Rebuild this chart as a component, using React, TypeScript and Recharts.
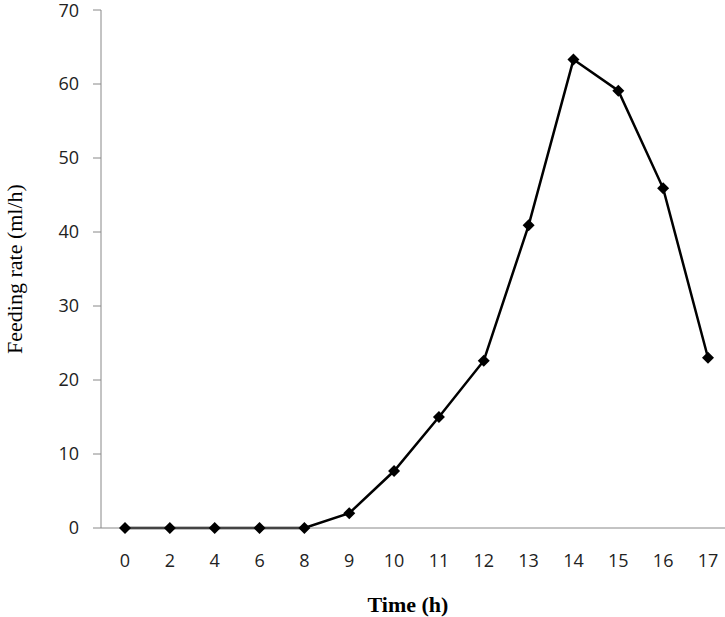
import React from 'react';
import { LineChart, Line, XAxis, YAxis } from 'recharts';

const hours = ['0', '2', '4', '6', '8', '9', '10', '11', '12', '13', '14', '15', '16', '17'];
const feedingRate = [0, 0, 0, 0, 0, 2.0, 7.7, 15.0, 22.6, 40.9, 63.3, 59.1, 45.9, 23.0];
const yTicks = [0, 10, 20, 30, 40, 50, 60, 70];

const chartData = hours.map((h, i) => ({ hour: h, rate: feedingRate[i] }));

const Diamond = (props: any) => {
  const { cx, cy } = props;
  if (cx == null || cy == null) return null;
  const r = 6;
  return (
    <path
      d={`M${cx},${cy - r}L${cx + r},${cy}L${cx},${cy + r}L${cx - r},${cy}Z`}
      fill="#000"
      stroke="none"
    />
  );
};

export default function App() {
  return (
    <div style={{ position: 'absolute', left: 0, top: 0, background: '#fff' }}>
      <LineChart
        width={725}
        height={617}
        data={chartData}
        margin={{ top: 10, right: 0, left: 0, bottom: 0 }}
      >
        <XAxis
          dataKey="hour"
          height={89}
          stroke="#888"
          padding={{ left: 24, right: 17 }}
          tickLine={false}
          tickSize={0}
          tickMargin={26}
          tick={{ fill: '#222', fontSize: 18, fontFamily: 'Open Sans' }}
          label={{
            value: 'Time (h)',
            position: 'insideBottom',
            offset: 5,
            dx: -5,
            style: { fontFamily: 'Liberation Serif', fontWeight: 'bold', fontSize: 22, fill: '#000' }
          }}
        />
        <YAxis
          domain={[0, 70]}
          ticks={yTicks}
          width={101}
          stroke="#888"
          tickSize={8}
          tickMargin={14}
          tick={{ fill: '#222', fontSize: 18, fontFamily: 'Open Sans' }}
          label={{
            value: 'Feeding rate (ml/h)',
            angle: -90,
            position: 'insideLeft',
            offset: 14,
            style: { textAnchor: 'middle', fontFamily: 'Liberation Serif', fontSize: 22, fill: '#000' }
          }}
        />
        <Line
          type="linear"
          dataKey="rate"
          stroke="#000"
          strokeWidth={2.5}
          dot={<Diamond />}
          activeDot={false}
          isAnimationActive={false}
        />
      </LineChart>
    </div>
  );
}
